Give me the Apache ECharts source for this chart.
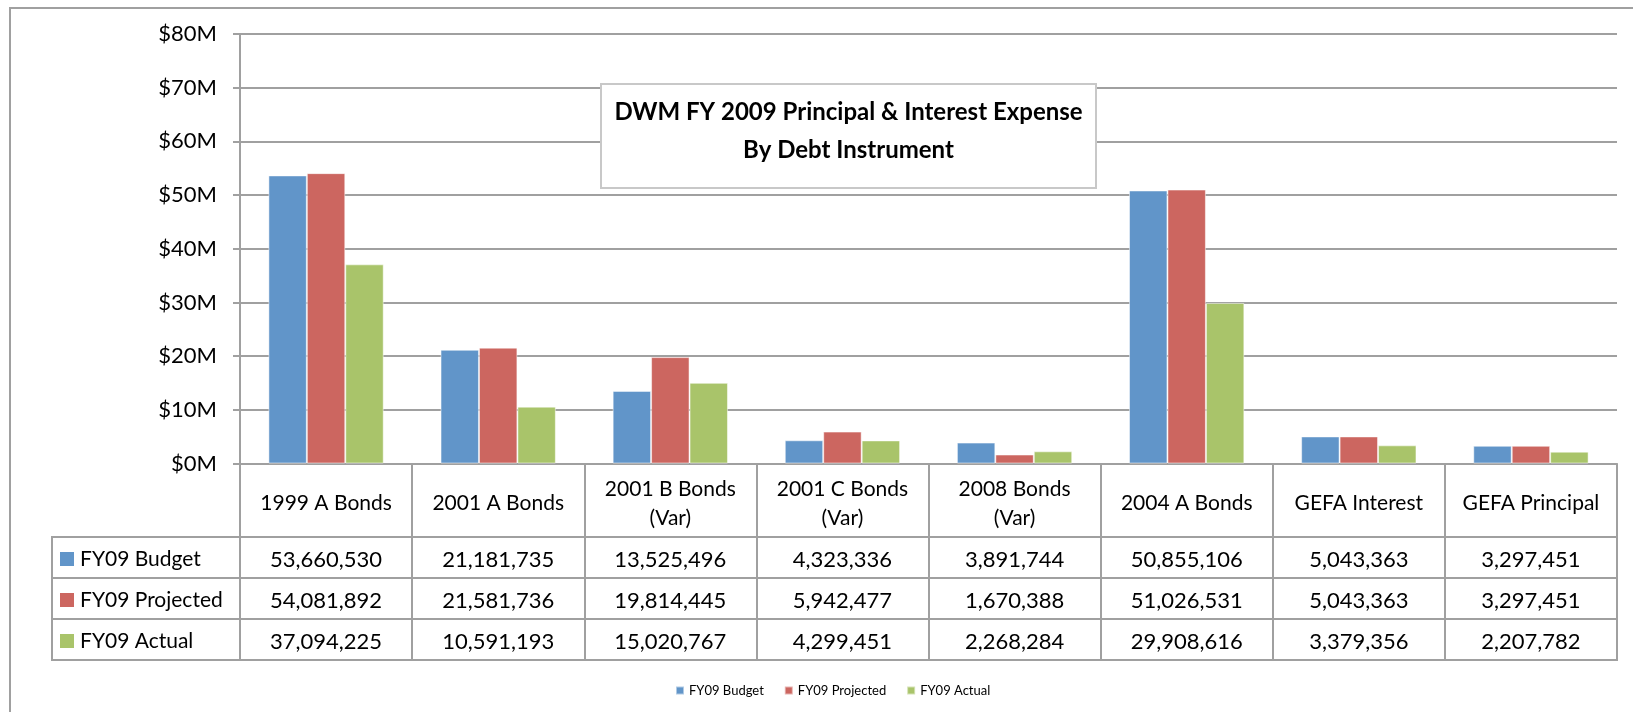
<!DOCTYPE html>
<html>
<head>
<meta charset="utf-8">
<script src="https://cdn.jsdelivr.net/npm/echarts@6/dist/echarts.min.js"></script>
<style>
  html, body { margin: 0; padding: 0; background: #fff; }
  #chart { width: 1633px; height: 712px; }
</style>
</head>
<body>
<div id="chart"></div>
<script>
// categories (debt instruments)
const categories = ['1999 A Bonds', '2001 A Bonds', '2001 B Bonds\n(Var)', '2001 C Bonds\n(Var)', '2008 Bonds\n(Var)', '2004 A Bonds', 'GEFA Interest', 'GEFA Principal'];
const seriesNames = ['FY09 Budget', 'FY09 Projected', 'FY09 Actual'];
const colors = ['#6195C9', '#CC6660', '#A9C46A'];

const budget = [53660530, 21181735, 13525496, 4323336, 3891744, 50855106, 5043363, 3297451];
const projected = [54081892, 21581736, 19814445, 5942477, 1670388, 51026531, 5043363, 3297451];
const actual = [37094225, 10591193, 15020767, 4299451, 2268284, 29908616, 3379356, 2207782];
const seriesData = [budget, projected, actual];

const yTicks = { min: 0, max: 80000000, interval: 10000000 };

const FONT = 'Lato, "Open Sans", sans-serif';
const GRID_COLOR = '#a0a0a0';
const fmt = (v) => v.toLocaleString('en-US');

const chart = echarts.init(document.getElementById('chart'));

// layout
const plotLeft = 240, plotRight = 16, plotTop = 34, plotBottom = 463.5;
const rowTop = 537, rowH = 41;

const grids = [
  { left: plotLeft, right: plotRight, top: plotTop, height: plotBottom - plotTop }
];
const xAxes = [{
  type: 'category',
  gridIndex: 0,
  data: categories,
  axisLine: { lineStyle: { color: GRID_COLOR, width: 2 } },
  axisTick: { show: true, length: rowTop - plotBottom, lineStyle: { color: GRID_COLOR, width: 2 } },
  axisLabel: {
    color: '#000', fontFamily: FONT, fontSize: 21, margin: 40,
    verticalAlign: 'middle', lineHeight: 29, align: 'center', interval: 0
  }
}];
const yAxes = [{
  type: 'value',
  gridIndex: 0,
  min: yTicks.min, max: yTicks.max, interval: yTicks.interval,
  axisLine: { show: true, lineStyle: { color: GRID_COLOR, width: 2 } },
  axisTick: { show: true, length: 7, lineStyle: { color: GRID_COLOR, width: 2 } },
  splitLine: { lineStyle: { color: GRID_COLOR, width: 2 } },
  axisLabel: {
    color: '#000', fontFamily: FONT, fontSize: 22, margin: 23,
    verticalAlign: 'middle', padding: [4, 0, 0, 0],
    formatter: (v) => '$' + (v / 1000000) + 'M'
  }
}];

// data table rows: one grid per row for values, one for the legend key cell
seriesData.forEach((vals, i) => {
  const top = rowTop + i * rowH;
  grids.push({ left: plotLeft, right: plotRight, top: top, height: rowH, show: true, borderColor: GRID_COLOR, borderWidth: 2 });
  xAxes.push({
    type: 'category', gridIndex: grids.length - 1, data: vals.map(fmt),
    axisLine: { show: false }, axisTick: { show: false },
    splitLine: { show: true, interval: 0, lineStyle: { color: GRID_COLOR, width: 2 } },
    axisLabel: { color: '#000', fontFamily: FONT, fontSize: 22, margin: -rowH / 2 + 2, verticalAlign: 'middle', interval: 0 }
  });
  yAxes.push({ type: 'value', gridIndex: grids.length - 1, show: false });

  grids.push({ left: 52, width: plotLeft - 52, top: top, height: rowH, show: true, borderColor: GRID_COLOR, borderWidth: 2 });
  xAxes.push({ type: 'value', gridIndex: grids.length - 1, show: false });
  yAxes.push({
    type: 'category', gridIndex: grids.length - 1, data: [seriesNames[i]],
    axisLine: { show: false }, axisTick: { show: false },
    axisLabel: {
      inside: true, margin: 8, align: 'left', fontFamily: FONT, fontSize: 21, color: '#000',
      padding: [3, 0, 0, 0],
      formatter: (v) => '{k|}{t|' + v + '}',
      rich: {
        k: { width: 14, height: 14, backgroundColor: colors[i], verticalAlign: 'middle' },
        t: { fontFamily: FONT, fontSize: 21, color: '#000', padding: [0, 0, 0, 6], verticalAlign: 'middle' }
      }
    }
  });
});

const option = {
  animation: false,
  backgroundColor: '#fff',
  color: colors,
  title: {
    text: '{t|DWM FY 2009 Principal & Interest Expense}\n{t|By Debt Instrument}',
    left: 601, top: 77,
    padding: [16, 0, 26, 0],
    backgroundColor: '#fff',
    borderColor: '#c8c8c8', borderWidth: 2,
    textStyle: {
      rich: {
        t: { fontFamily: FONT, fontSize: 24, fontWeight: 'bold', color: '#000', lineHeight: 38, width: 495, align: 'center' }
      }
    }
  },
  legend: {
    data: seriesNames,
    bottom: 15, left: 675, padding: 0,
    icon: 'rect', itemWidth: 8, itemHeight: 8, itemGap: 20,
    textStyle: { fontFamily: FONT, fontSize: 13, color: '#000' }
  },
  graphic: [{
    type: 'rect', shape: { x: 10, y: 8, width: 1700, height: 800 },
    style: { fill: 'none', stroke: GRID_COLOR, lineWidth: 2 }, silent: true, z: -1
  }],
  grid: grids,
  xAxis: xAxes,
  yAxis: yAxes,
  series: seriesNames.map((name, i) => ({
    name: name,
    type: 'bar',
    xAxisIndex: 0, yAxisIndex: 0,
    data: seriesData[i],
    barGap: '0%',
    barCategoryGap: '33%',
    itemStyle: { color: colors[i], borderColor: 'rgba(255,255,255,0.5)', borderWidth: 1 }
  }))
};

chart.setOption(option);
</script>
</body>
</html>
